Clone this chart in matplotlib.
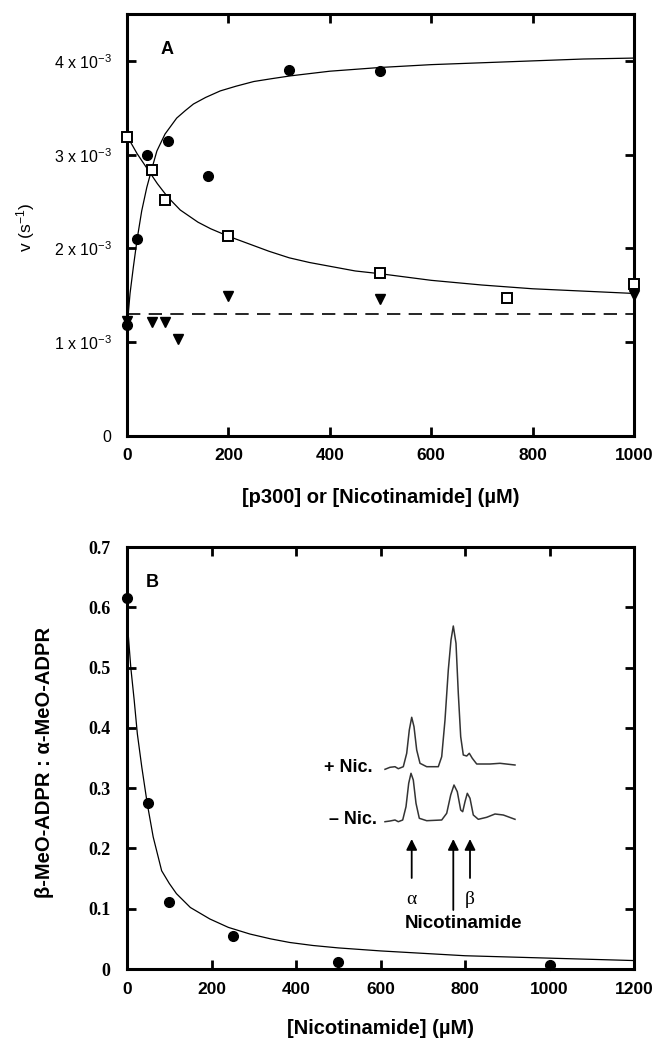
import numpy as np
import matplotlib.pyplot as plt

plt.rcParams.update({"font.family": ["Liberation Sans", "DejaVu Sans"],
                     "mathtext.default": "regular"})

# ---- panel A data: v (s^-1, x1e-3) vs concentration (uM)
p300_x = [0, 20, 40, 80, 160, 320, 500]
p300_v = [1.18, 2.10, 3.00, 3.15, 2.77, 3.90, 3.89]
nic_x = [0, 50, 75, 200, 500, 750, 1000]
nic_v = [3.19, 2.84, 2.52, 2.13, 1.74, 1.475, 1.62]
ctrl_x = [0, 50, 75, 100, 200, 500, 1000]
ctrl_v = [1.23, 1.22, 1.22, 1.03, 1.49, 1.46, 1.50]
ctrl_mean = 1.30

# fitted curves
p300_fit_x = [0, 6, 12.5, 20, 29, 39, 49, 59, 75, 98, 115, 131, 155, 184, 215,
              250, 285, 322, 400, 500, 600, 700, 800, 900, 1000]
p300_fit_v = [1.15, 1.52, 1.80, 2.10, 2.40, 2.65, 2.85, 3.04, 3.22, 3.39, 3.47,
              3.54, 3.61, 3.68, 3.73, 3.78, 3.81, 3.84, 3.89, 3.93, 3.96, 3.98,
              4.00, 4.02, 4.03]
nic_fit_x = [0, 20, 40, 60, 80, 105, 140, 165, 200, 245, 280, 320, 360, 400, 450,
             500, 600, 700, 800, 900, 1000]
nic_fit_v = [3.20, 3.01, 2.85, 2.69, 2.55, 2.41, 2.28, 2.21, 2.13, 2.04, 1.97,
             1.90, 1.85, 1.81, 1.76, 1.73, 1.66, 1.61, 1.57, 1.545, 1.52]

a_yticks = [0, 1, 2, 3, 4]
a_yticklabels = ["0", "1 x 10$^{-3}$", "2 x 10$^{-3}$", "3 x 10$^{-3}$", "4 x 10$^{-3}$"]
a_xticks = [0, 200, 400, 600, 800, 1000]

# ---- panel B data: beta/alpha ratio vs [nicotinamide]
ratio_x = [0, 50, 100, 250, 500, 1000]
ratio_y = [0.616, 0.276, 0.111, 0.055, 0.012, 0.006]
ratio_fit_x = [0, 3, 9, 17, 24.5, 35, 48, 62, 82, 100, 117, 150, 196, 240, 291,
               340, 385, 440, 500, 600, 800, 1000, 1200]
ratio_fit_y = [0.61, 0.554, 0.50, 0.446, 0.39, 0.335, 0.274, 0.219, 0.163, 0.142,
               0.125, 0.102, 0.083, 0.069, 0.058, 0.050, 0.044, 0.039, 0.035,
               0.030, 0.022, 0.018, 0.014]
b_xticks = [0, 200, 400, 600, 800, 1000, 1200]
b_yticks = [0, 0.1, 0.2, 0.3, 0.4, 0.5, 0.6, 0.7]
b_yticklabels = ["0", "0.1", "0.2", "0.3", "0.4", "0.5", "0.6", "0.7"]

# ---- inset HPLC traces (retention, signal; arbitrary units)
plus_t = [5, 10, 15, 18.3, 23.3, 26.7, 29.3, 31.7, 34, 36.7, 40, 46.7, 58.3, 61.7,
          65, 68.3, 71, 73.3, 76, 78.3, 80.7, 83.3, 86.7, 89.3, 92.3, 96.7, 110,
          120, 135]
plus_s = [-2.3, -0.3, 0.3, -1.7, 0.3, 13.7, 37, 49.7, 40.3, 17, 3.7, 0.3, 0.3, 10.3,
          47, 97, 127, 141, 123.7, 73.7, 30.3, 12, 11, 13.7, 8.7, 3, 3, 3.7, 2]
minus_t = [5, 10, 15, 18.3, 22.7, 26, 28.7, 31, 33.3, 36, 39.3, 46.7, 61.7, 66.7,
           70.7, 74, 77.3, 80.7, 82.7, 85, 87.3, 90, 93.3, 98.3, 106.7, 115, 123.3, 135]
minus_s = [-1.7, -1, 0, -1.7, 0, 13.3, 36.7, 46.7, 40, 16.7, 1.7, -0.7, 0, 6.7,
           25, 35, 28.3, 10, 8.3, 18.3, 26.7, 21.7, 5, 0.7, 2.7, 6, 5, 0.7]
plus_offset = 53
peak_names = ["α", "", "β"]
peak_t = [31.7, 73.3, 90.0]


def style_axes(ax):
    for sp in ax.spines.values():
        sp.set_linewidth(2.2)
    ax.tick_params(direction="in", length=6.5, width=2, top=True, right=True)


fig = plt.figure(figsize=(6.64, 10.5), dpi=100)

# ---------------- Panel A
ax1 = fig.add_axes([127 / 664, 1 - 436 / 1050, 507 / 664, 422 / 1050])
ax1.plot(p300_fit_x, p300_fit_v, color="black", lw=0.9)
ax1.plot(nic_fit_x, nic_fit_v, color="black", lw=0.9)
ax1.plot([0, 1000], [ctrl_mean, ctrl_mean], color="black", lw=1.2, dashes=(8, 5))
ax1.plot(p300_x, p300_v, "o", color="black", ms=7, clip_on=False, zorder=4)
ax1.plot(nic_x, nic_v, "s", mfc="white", mec="black", mew=1.4, ms=6.5,
         clip_on=False, zorder=4)
ax1.plot(ctrl_x, ctrl_v, "v", color="black", ms=7.5, clip_on=False, zorder=4)
ax1.set_xlim(0, 1000)
ax1.set_ylim(0, 4.5)
ax1.set_xticks(a_xticks)
ax1.set_xticklabels([str(t) for t in a_xticks], fontsize=12.5, fontweight="bold")
ax1.set_yticks(a_yticks)
ax1.set_yticklabels(a_yticklabels, fontsize=11.5)
style_axes(ax1)
ax1.tick_params(axis="x", pad=9)
ax1.tick_params(axis="y", pad=11)
ax1.set_xlabel("[p300] or [Nicotinamide] (µM)", fontsize=14.5, fontweight="bold")
ax1.xaxis.set_label_coords(0.5, -0.145)
ax1.xaxis.label.set_va("center")
ax1.set_ylabel("v (s$^{-1}$)", fontsize=12.5)
ax1.yaxis.set_label_coords(-0.2, 0.495)
ax1.yaxis.label.set_va("center")
ax1.text(0.079, 0.917, "A", transform=ax1.transAxes, fontsize=13,
         fontweight="bold", ha="center", va="center")

# ---------------- Panel B
ax2 = fig.add_axes([127 / 664, 1 - 969 / 1050, 507 / 664, 422 / 1050])
ax2.plot(ratio_fit_x, ratio_fit_y, color="black", lw=0.9)
ax2.plot(ratio_x, ratio_y, "o", color="black", ms=7, clip_on=False, zorder=4)
ax2.set_xlim(0, 1200)
ax2.set_ylim(0, 0.7)
ax2.set_xticks(b_xticks)
ax2.set_xticklabels([str(t) for t in b_xticks], fontsize=12.5, fontweight="bold")
ax2.set_yticks(b_yticks)
ax2.set_yticklabels(b_yticklabels, fontsize=13, fontweight="bold",
                    family=["Liberation Serif"])
style_axes(ax2)
ax2.tick_params(axis="x", pad=9)
ax2.tick_params(axis="y", pad=12)
ax2.set_xlabel("[Nicotinamide] (µM)", fontsize=14.5, fontweight="bold")
ax2.xaxis.set_label_coords(0.5, -0.14)
ax2.xaxis.label.set_va("center")
ax2.set_ylabel("β-MeO-ADPR : α-MeO-ADPR", fontsize=14.5, fontweight="bold")
ax2.yaxis.set_label_coords(-0.162, 0.49)
ax2.yaxis.label.set_va("center")
ax2.text(0.05, 0.915, "B", transform=ax2.transAxes, fontsize=13,
         fontweight="bold", ha="center", va="center")

# ---------------- Inset chromatograms
axi = fig.add_axes([380 / 664, 1 - 935 / 1050, 140 / 664, 330 / 1050])
axi.set_xlim(0, 140)
axi.set_ylim(-115, 215)
axi.axis("off")
axi.plot(plus_t, np.array(plus_s) + plus_offset, color="#333333", lw=1.1)
axi.plot(minus_t, minus_s, color="#333333", lw=1.1)
axi.text(-7, plus_offset, "+ Nic.", ha="right", va="center", fontsize=13,
         fontweight="bold")
axi.text(-3, 0, "– Nic.", ha="right", va="center", fontsize=13, fontweight="bold")
for name, t in zip(peak_names, peak_t):
    tail = -90 if name == "" else -58
    axi.annotate("", xy=(t, -19), xytext=(t, tail),
                 arrowprops=dict(arrowstyle="-|>", lw=1.3, color="black",
                                 mutation_scale=16, shrinkA=0, shrinkB=0))
    if name:
        axi.text(t, -80, name, ha="center", va="center", fontsize=14,
                 family=["Liberation Serif"])
axi.text(83, -104, "Nicotinamide", ha="center", va="center", fontsize=13.5,
         fontweight="bold")

fig.savefig("out.png", dpi=100)
